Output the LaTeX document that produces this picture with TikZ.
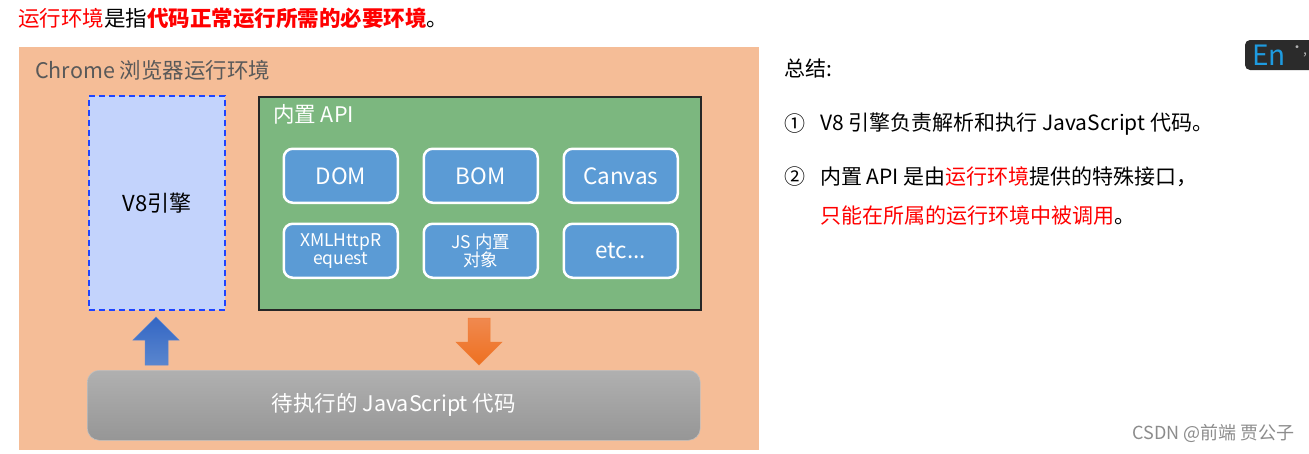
\documentclass[tikz,border=0pt]{standalone}
\usepackage{fontspec}
\setmainfont{Noto Sans CJK SC}
\definecolor{bg}{HTML}{F5BD97}
\definecolor{v8fill}{HTML}{C3D3FC}
\definecolor{v8line}{HTML}{1F44FF}
\definecolor{apigreen}{HTML}{7CB77F}
\definecolor{apiblue}{HTML}{5B9BD5}
\definecolor{redtxt}{HTML}{FF0000}
\definecolor{chrometxt}{HTML}{595959}
\definecolor{upA}{HTML}{3366C4}
\definecolor{upB}{HTML}{5A86CE}
\definecolor{dnA}{HTML}{F0894F}
\definecolor{dnB}{HTML}{EE7020}
\definecolor{grayA}{HTML}{B0B0B0}
\definecolor{grayB}{HTML}{969696}
\definecolor{badge}{HTML}{2B2B2B}
\definecolor{enblue}{HTML}{1E9BE0}
\begin{document}
\begin{tikzpicture}[x=1pt,y=-1pt,
  fs/.style={font=\fontsize{#1}{#1}\selectfont},
  txt/.style={inner sep=0pt, anchor=west},
  apibox/.style={draw=white, line width=2.5pt, fill=apiblue, rounded corners=9pt,
    minimum width=114pt, minimum height=54pt, inner sep=0pt, text=white,
    align=center, anchor=north west},
  big/.style={font=\fontsize{22.5}{24}\selectfont},
  small/.style={font=\fontsize{17.5}{18}\selectfont}
]
\useasboundingbox (0,0) rectangle (1309,453);
\fill[white] (0,0) rectangle (1309,453);

% title
\node[txt, fs=21.5] (title) at (18,18) {\textcolor{redtxt}{运行环境}是指\textcolor{redtxt}{\bfseries 代码正常运行所需的必要环境}。};

% chrome environment
\node[fill=bg, draw=none, minimum width=740pt, minimum height=403pt, inner sep=0pt, anchor=north west] (env) at (19,47) {};
\node[txt, fs=21.5, text=chrometxt] (envlabel) at (35,70) {Chrome 浏览器运行环境};

% V8 engine
\node[draw=v8line, fill=v8fill, line width=1.8pt, dash pattern=on 6pt off 4pt,
  minimum width=136pt, minimum height=214pt, inner sep=0pt, anchor=north west, fs=22] (v8) at (88,95) {V8引擎};

% built-in API
\node[draw=black!85, fill=apigreen, line width=2pt, minimum width=442pt, minimum height=213pt,
  inner sep=0pt, anchor=north west] (api) at (258,96) {};
\node[txt, fs=21.5, text=white] (apilabel) at (273,114) {内置 API};

\node[apibox, big] (dom) at (282.5,147.5) {DOM};
\node[apibox, big] (bom) at (422.5,147.5) {BOM};
\node[apibox, big] (canvas) at (562.5,147.5) {Canvas};
\node[apibox, small] (xhr) at (282.5,222.5) {XMLHttpR\\[0pt]equest};
\node[apibox, small] (jsobj) at (422.5,222.5) {JS 内置\\[0pt]对象};
\node[apibox, big] (etc) at (562.5,222.5) {etc...};

% code box
\node[draw=grayA!80!white, line width=0.6pt, top color=grayA, bottom color=grayB, rounded corners=12pt,
  minimum width=613pt, minimum height=70pt, inner sep=0pt, anchor=north west,
  text=white, fs=21.5] (code) at (87,370) {待执行的 JavaScript 代码};

% block arrows
\path[top color=upA, bottom color=upB, draw=upA!80!white, line width=0.5pt]
  (145,365) -- (145,340) -- (133,340) -- (156,317) -- (179,340) -- (168,340) -- (168,365) -- cycle;
\path[top color=dnA, bottom color=dnB, draw=dnB!90!white, line width=0.5pt]
  (468,318) -- (490,318) -- (490,342) -- (502,342) -- (479,365) -- (456,342) -- (468,342) -- cycle;

% summary
\node[txt, fs=21] (sum) at (784,68) {总结:};
\node[txt, fs=21] (n1) at (784,124) {①};
\node[txt, fs=21] (t1) at (820,124) {V8 引擎负责解析和执行 JavaScript 代码。};
\node[txt, fs=21] (n2) at (784,177) {②};
\node[txt, fs=21] (t2) at (820,177) {内置 API 是由\textcolor{redtxt}{运行环境}提供的特殊接口，};
\node[txt, fs=21, text=redtxt] (t3) at (820,216) {只能在所属的运行环境中被调用\textcolor{black}{。}};

% badge
\fill[badge, rounded corners=5pt] (1245,40) rectangle (1320,70);
\node[txt, fs=28, text=enblue] (en) at (1252,55) {En};
\node[inner sep=0pt, text=gray!60!white, fs=14] (dot1) at (1297,49) {·};
\node[inner sep=0pt, text=gray!60!white, fs=14] (dot2) at (1305,55) {,};

% watermark
\node[inner sep=0pt, anchor=east, fs=18, text=black!45] (wm) at (1295,433) {CSDN @前端 贾公子};
\end{tikzpicture}
\end{document}
